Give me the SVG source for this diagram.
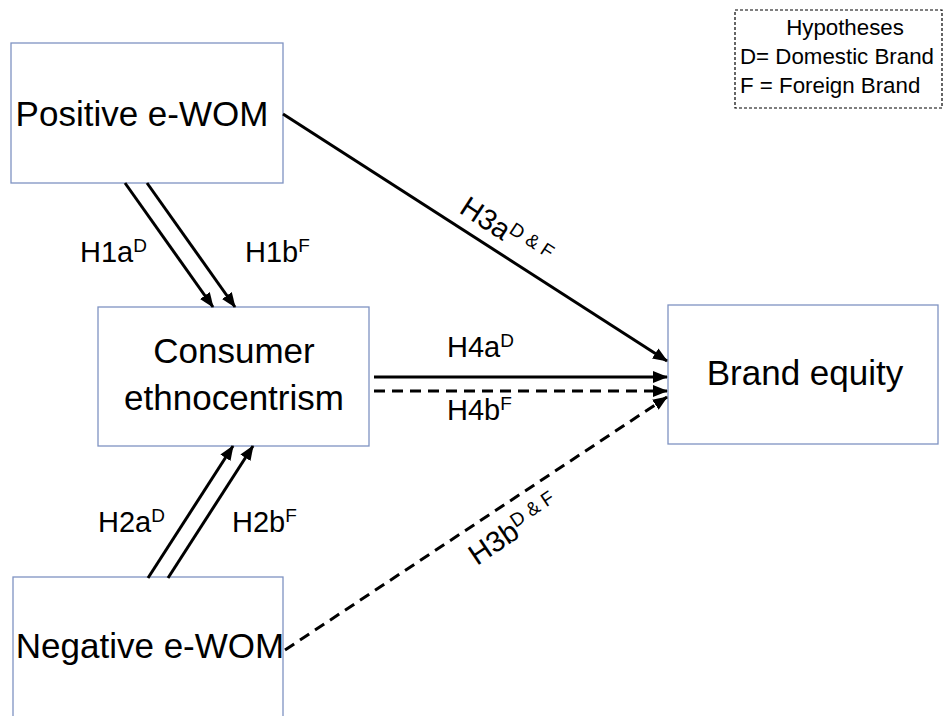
<svg xmlns="http://www.w3.org/2000/svg" width="944" height="716" viewBox="0 0 944 716">
<style>
.box{fill:#fff;stroke:#7f93c2;stroke-width:1.3}
.lbl{font-family:"Liberation Sans",Arial,sans-serif;font-size:35px;fill:#000;text-anchor:middle}
.h{font-family:"Liberation Sans",Arial,sans-serif;font-size:29px;fill:#000}
.sup{font-size:19px}
.leg{font-family:"Liberation Sans",Arial,sans-serif;font-size:22.3px;fill:#000}
.ln{stroke:#000;stroke-width:3;fill:none}
.dash{stroke-dasharray:11 7}
</style>
<defs>
<marker id="ah" markerUnits="userSpaceOnUse" markerWidth="15" markerHeight="12" viewBox="0 0 15 12" refX="14" refY="6" orient="auto">
<path d="M0,0 L15,6 L0,12 z" fill="#000"/>
</marker>
</defs>
<rect width="944" height="716" fill="#fff"/>
<g id="legend">
<rect x="735" y="10" width="207" height="98" fill="none" stroke="#000" stroke-width="1.2" stroke-dasharray="3 2"/>
<text class="leg" x="845" y="35" text-anchor="middle">Hypotheses</text>
<text class="leg" x="740" y="64">D= Domestic Brand</text>
<text class="leg" x="740" y="93">F = Foreign Brand</text>
</g>
<g id="positive">
<rect class="box" x="11" y="43" width="272" height="140"/>
<text class="lbl" x="142" y="126">Positive e-WOM</text>
</g>
<g id="consumer">
<rect class="box" x="98" y="307" width="271" height="139"/>
<text class="lbl" x="234" y="363">Consumer</text>
<text class="lbl" x="234" y="410">ethnocentrism</text>
</g>
<g id="brand">
<rect class="box" x="668" y="305" width="270" height="139"/>
<text class="lbl" x="805" y="385">Brand equity</text>
</g>
<g id="negative">
<rect class="box" x="13" y="577" width="270" height="150"/>
<text class="lbl" x="150" y="658">Negative e-WOM</text>
</g>
<g id="connectors">
<line class="ln" x1="125" y1="183" x2="213" y2="307" marker-end="url(#ah)"/>
<line class="ln" x1="147" y1="183" x2="235" y2="307" marker-end="url(#ah)"/>
<line class="ln" x1="148" y1="578" x2="233" y2="446" marker-end="url(#ah)"/>
<line class="ln" x1="168" y1="578" x2="253" y2="446" marker-end="url(#ah)"/>
<line class="ln" x1="283" y1="114" x2="667" y2="361" marker-end="url(#ah)"/>
<line class="ln" x1="374" y1="377" x2="667" y2="377" marker-end="url(#ah)"/>
<line class="ln dash" x1="374" y1="391" x2="667" y2="391" marker-end="url(#ah)"/>
<line class="ln dash" x1="285" y1="650" x2="667" y2="397" marker-end="url(#ah)"/>
</g>
<g id="labels">
<text class="h" x="80" y="262">H1a<tspan class="sup" dy="-10">D</tspan></text>
<text class="h" x="245" y="262">H1b<tspan class="sup" dy="-10">F</tspan></text>
<text class="h" x="98" y="532">H2a<tspan class="sup" dy="-10">D</tspan></text>
<text class="h" x="232" y="532">H2b<tspan class="sup" dy="-10">F</tspan></text>
<text class="h" x="447" y="357">H4a<tspan class="sup" dy="-10">D</tspan></text>
<text class="h" x="447" y="420">H4b<tspan class="sup" dy="-10">F</tspan></text>
<text class="h" transform="translate(458,212) rotate(33)">H3a<tspan class="sup" dy="-10">D &amp; F</tspan></text>
<text class="h" transform="translate(477,566) rotate(-34)">H3b<tspan class="sup" dy="-10">D &amp; F</tspan></text>
</g>
</svg>
